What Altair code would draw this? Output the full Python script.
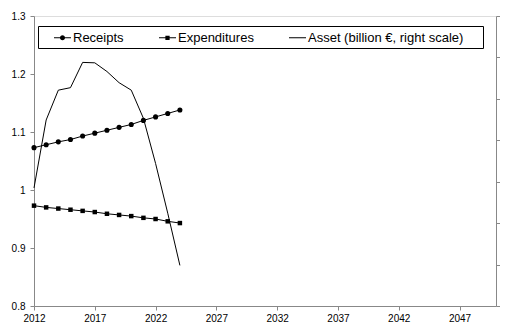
import altair as alt
import pandas as pd

years = list(range(2012, 2025))
receipts = [1.073, 1.078, 1.083, 1.087, 1.093, 1.098, 1.103, 1.108, 1.113, 1.120, 1.126, 1.132, 1.138]
expenditures = [0.973, 0.970, 0.968, 0.966, 0.964, 0.962, 0.959, 0.957, 0.955, 0.952, 0.950, 0.946, 0.943]
asset = [2.85, 4.49, 5.21, 5.27, 5.88, 5.87, 5.66, 5.39, 5.21, 4.53, 3.44, 2.24, 0.98]

series_names = ["Receipts", "Expenditures", "Asset (billion €, right scale)"]
legend_paths = [
    "M-1,-0.06H1V0.06H-1ZM0.3,0A0.3,0.3,0,1,1,-0.3,0A0.3,0.3,0,1,1,0.3,0Z",
    "M-1,-0.06H1V0.06H-1ZM-0.25,-0.25H0.25V0.25H-0.25Z",
    "M21.4,0M-1,-0.06H1V0.06H-1Z",
]
x_ticks = [2012, 2017, 2022, 2027, 2032, 2037, 2042, 2047]
left_ticks = [0.8, 0.9, 1.0, 1.1, 1.2, 1.3]
right_ticks = [0, 1, 2, 3, 4, 5, 6, 7]

FONT = "Liberation Sans"

rec_df = pd.DataFrame({"year": years, "value": receipts, "series": series_names[0]})
exp_df = pd.DataFrame({"year": years, "value": expenditures, "series": series_names[1]})
ast_df = pd.DataFrame({"year": years, "value": asset, "series": series_names[2]})
leg_df = pd.DataFrame({"year": years[:3], "value": receipts[:3], "series": series_names})

x_enc = alt.X(
    "year:Q",
    scale=alt.Scale(domain=[2012, 2050], nice=False, zero=False),
    axis=alt.Axis(values=x_ticks, format="d", title=None, grid=False, tickSize=4,
                  labelPadding=3, labelFlush=False),
)
y_left = alt.Y(
    "value:Q",
    scale=alt.Scale(domain=[0.8, 1.3], nice=False, zero=False),
    axis=alt.Axis(values=left_ticks, labelExpr="format(datum.value, '~g')", title=None,
                  grid=False, tickSize=4, labelPadding=5),
)
y_right = alt.Y(
    "value:Q",
    scale=alt.Scale(domain=[0, 7], nice=False, zero=False),
    axis=alt.Axis(orient="right", values=right_ticks, labels=False, title=None,
                  grid=False, tickSize=4),
)

rec_line = alt.Chart(rec_df).mark_line(color="black", strokeWidth=1).encode(x=x_enc, y=y_left)
rec_pts = alt.Chart(rec_df).mark_point(shape="circle", filled=True, color="black", size=26, opacity=1).encode(x=x_enc, y=y_left)
exp_line = alt.Chart(exp_df).mark_line(color="black", strokeWidth=1).encode(x=x_enc, y=y_left)
exp_pts = alt.Chart(exp_df).mark_point(shape="square", filled=True, color="black", size=20, opacity=1).encode(x=x_enc, y=y_left)

legend_layer = alt.Chart(leg_df).transform_filter("false").mark_point(
    filled=True, fill="black", opacity=1, size=289
).encode(
    x=x_enc, y=y_left,
    shape=alt.Shape(
        "series:N",
        scale=alt.Scale(domain=series_names, range=legend_paths),
        legend=alt.Legend(
            title="\u00a0", titleOrient="left", titlePadding=13, titleFontSize=13,
            orient="none", legendX=4, legendY=10, direction="horizontal", columns=3,
            columnPadding=35, labelOffset=2, padding=3, symbolSize=289,
            symbolFillColor="black", symbolStrokeWidth=0,
            strokeColor="black", fillColor="white",
            labelFont=FONT, labelFontSize=13, labelColor="black",
        ),
    ),
)

left = alt.layer(rec_line, rec_pts, exp_line, exp_pts, legend_layer)
ast_line = alt.Chart(ast_df).mark_line(color="black", strokeWidth=1).encode(x=x_enc, y=y_right)

chart = alt.layer(left, ast_line).resolve_scale(y="independent").properties(
    width=462, height=290,
    autosize=alt.AutoSizeParams(type="none"),
    padding={"left": 26, "top": 8, "right": 4, "bottom": 17},
).configure_view(
    stroke="#999999", strokeWidth=1
).configure_axis(
    labelFont=FONT, labelFontSize=11, labelColor="black",
    domainColor="black", tickColor="black", domainWidth=1, tickWidth=1,
).configure(background="white")

chart.save("out.html", embed_options={"renderer": "svg", "actions": False})
